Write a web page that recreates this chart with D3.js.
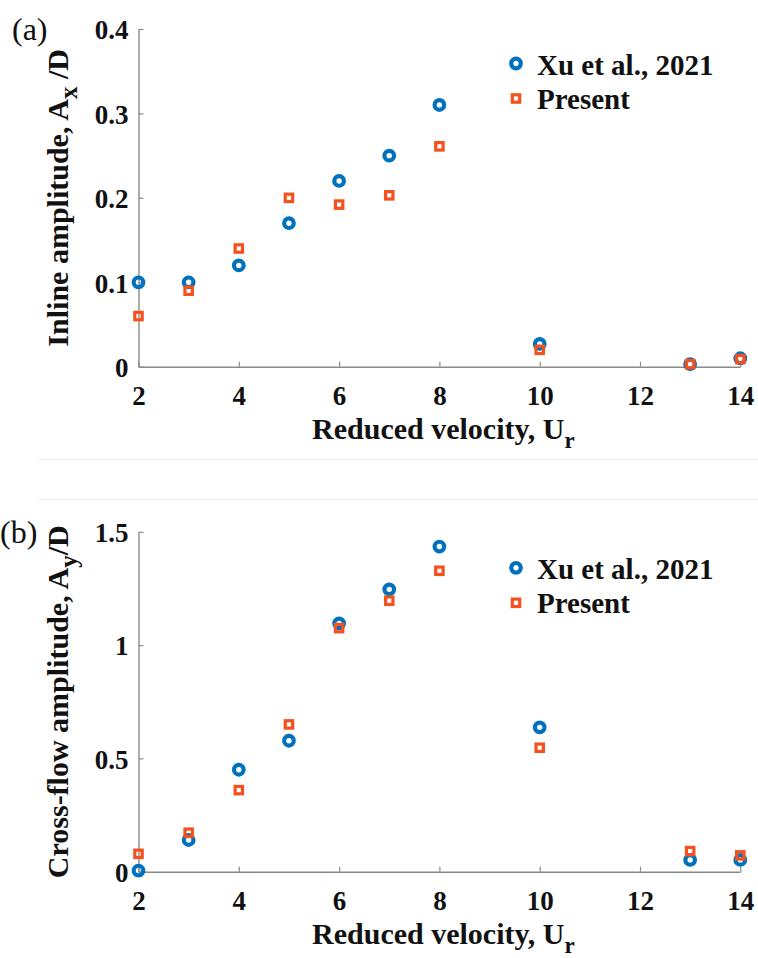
<!DOCTYPE html>
<html>
<head>
  <meta charset='utf-8'>
  <title>Inline and cross-flow amplitude vs reduced velocity</title>
  <style>
    body { margin: 0; background: #fff; }
    svg text { font-family: "Liberation Serif", "Times New Roman", serif; }
  </style>
</head>
<body>
  <div id="chart"></div>
<script src="https://d3js.org/d3.v7.min.js"></script>
<script>
  // data
  var ur = [2, 3, 4, 5, 6, 7, 8, 10, 13, 14];
  var xuInline = [0.1, 0.1, 0.12, 0.17, 0.22, 0.25, 0.31, 0.027, 0.003, 0.01];
  var presentInline = [0.06, 0.09, 0.14, 0.2, 0.192, 0.203, 0.261, 0.02, 0.003, 0.009];
  var xuCross = [0.005, 0.14, 0.45, 0.578, 1.096, 1.246, 1.435, 0.637, 0.052, 0.052];
  var presentCross = [0.079, 0.172, 0.36, 0.65, 1.075, 1.196, 1.328, 0.547, 0.091, 0.072];
  var xTicks = [2, 4, 6, 8, 10, 12, 14];
  var yTicksA = [0, 0.1, 0.2, 0.3, 0.4];
  var yTicksB = [0, 0.5, 1, 1.5];
  var legendLabels = ["Xu et al., 2021", "Present"];

  const BLUE = "#0072BD";
  const ORANGE = "#F4511E";
  const AXIS_COLOR = "#8a8a8a";

  var W = 758, H = 958;
  var svg = d3.select("#chart").append("svg")
    .attr("width", W)
    .attr("height", H);

  // faint panel borders from the original figure
  svg.append("line").attr("x1", 38).attr("x2", W).attr("y1", 459.5).attr("y2", 459.5)
    .attr("stroke", "#f0f0f0").attr("stroke-width", 1);
  svg.append("line").attr("x1", 38).attr("x2", W).attr("y1", 499.5).attr("y2", 499.5)
    .attr("stroke", "#f0f0f0").attr("stroke-width", 1);

  var x = d3.scaleLinear().domain([2, 14]).range([138.5, 740.3]);

  function panel(opts) {
    var y = d3.scaleLinear().domain(opts.yDomain).range(opts.yRange);
    var g = svg.append("g");

    // x axis
    var xAxis = g.append("g")
      .attr("transform", "translate(0," + opts.yRange[0] + ")")
      .call(d3.axisBottom(x).tickValues(xTicks).tickSizeInner(-5).tickSizeOuter(0)
        .tickFormat(function (d) { return String(d); }));
    xAxis.selectAll("text").attr("y", 38.5).attr("dy", 0);

    // y axis
    var yAxis = g.append("g")
      .attr("transform", "translate(" + x.range()[0] + ",0)")
      .call(d3.axisLeft(y).tickValues(opts.yTicks).tickSizeInner(-5).tickSizeOuter(0)
        .tickPadding(10).tickFormat(function (d) { return String(d); }));
    yAxis.selectAll("text").attr("dy", "0.36em");

    [xAxis, yAxis].forEach(function (a) {
      a.select(".domain").attr("stroke", AXIS_COLOR).attr("stroke-width", 1.4);
      a.selectAll(".tick line").attr("stroke", AXIS_COLOR).attr("stroke-width", 1.2);
      a.selectAll("text")
        .attr("fill", "#111")
        .attr("font-family", "'Liberation Serif', serif")
        .attr("font-weight", "bold")
        .attr("font-size", 27);
    });

    // x label
    var xl = g.append("text")
      .attr("x", (x.range()[0] + x.range()[1]) / 2 + 4)
      .attr("y", opts.yRange[0] + 72)
      .attr("text-anchor", "middle")
      .attr("font-weight", "bold")
      .attr("font-size", 30)
      .attr("fill", "#111");
    xl.append("tspan").text("Reduced velocity, U");
    xl.append("tspan").attr("dy", 9).attr("font-size", 23).text("r");

    // y label
    var yc = (opts.yRange[0] + opts.yRange[1]) / 2;
    var yl = g.append("text")
      .attr("transform", "translate(68," + yc + ") rotate(-90)")
      .attr("text-anchor", "middle")
      .attr("font-weight", "bold")
      .attr("font-size", 30)
      .attr("fill", "#111");
    yl.append("tspan").text(opts.yLabel);
    yl.append("tspan").attr("dy", 9).attr("font-size", 25).text(opts.yLabelSub);
    yl.append("tspan").attr("dy", -9).text(opts.yLabelEnd);

    // panel letter
    g.append("text")
      .attr("x", opts.letterX)
      .attr("y", opts.letterY)
      .attr("font-size", 32)
      .attr("fill", "#111")
      .text(opts.letter);

    // markers: circles then squares on top
    var pts = g.append("g");
    pts.selectAll("circle")
      .data(ur.map(function (u, i) { return [u, opts.xu[i]]; }))
      .enter().append("circle")
      .attr("cx", function (d) { return x(d[0]); })
      .attr("cy", function (d) { return y(d[1]); })
      .attr("r", 4.8)
      .attr("fill", "none")
      .attr("stroke", BLUE)
      .attr("stroke-width", 4.2);
    var s = 7.4;
    pts.selectAll("rect")
      .data(ur.map(function (u, i) { return [u, opts.present[i]]; }))
      .enter().append("rect")
      .attr("x", function (d) { return x(d[0]) - s / 2; })
      .attr("y", function (d) { return y(d[1]) - s / 2; })
      .attr("width", s)
      .attr("height", s)
      .attr("fill", "none")
      .attr("stroke", ORANGE)
      .attr("stroke-width", 3.2);

    // legend
    var lg = g.append("g").attr("transform", "translate(516," + opts.legendY + ")");
    lg.append("circle").attr("cx", 0).attr("cy", 0).attr("r", 4.8)
      .attr("fill", "none").attr("stroke", BLUE).attr("stroke-width", 4.2);
    lg.append("rect").attr("x", -s / 2).attr("y", 35 - s / 2).attr("width", s).attr("height", s)
      .attr("fill", "none").attr("stroke", ORANGE).attr("stroke-width", 3.2);
    lg.selectAll("text.leg")
      .data(legendLabels)
      .enter().append("text")
      .attr("class", "leg")
      .attr("x", 21)
      .attr("y", function (d, i) { return 11 + i * 34.5; })
      .attr("font-weight", "bold")
      .attr("font-size", 29)
      .attr("fill", "#111")
      .text(function (d) { return d; });
  }

  panel({
    yDomain: [0, 0.4], yRange: [366.7, 29], yTicks: yTicksA,
    xu: xuInline, present: presentInline,
    yLabel: "Inline amplitude, A", yLabelSub: "x", yLabelEnd: " /D",
    letter: "(a)", letterX: 12, letterY: 40,
    legendY: 63.5
  });

  panel({
    yDomain: [0, 1.5], yRange: [871.7, 531.8], yTicks: yTicksB,
    xu: xuCross, present: presentCross,
    yLabel: "Cross-flow amplitude, A", yLabelSub: "y", yLabelEnd: "/D",
    letter: "(b)", letterX: 0, letterY: 543,
    legendY: 567.8
  });
</script>
</body>
</html>
